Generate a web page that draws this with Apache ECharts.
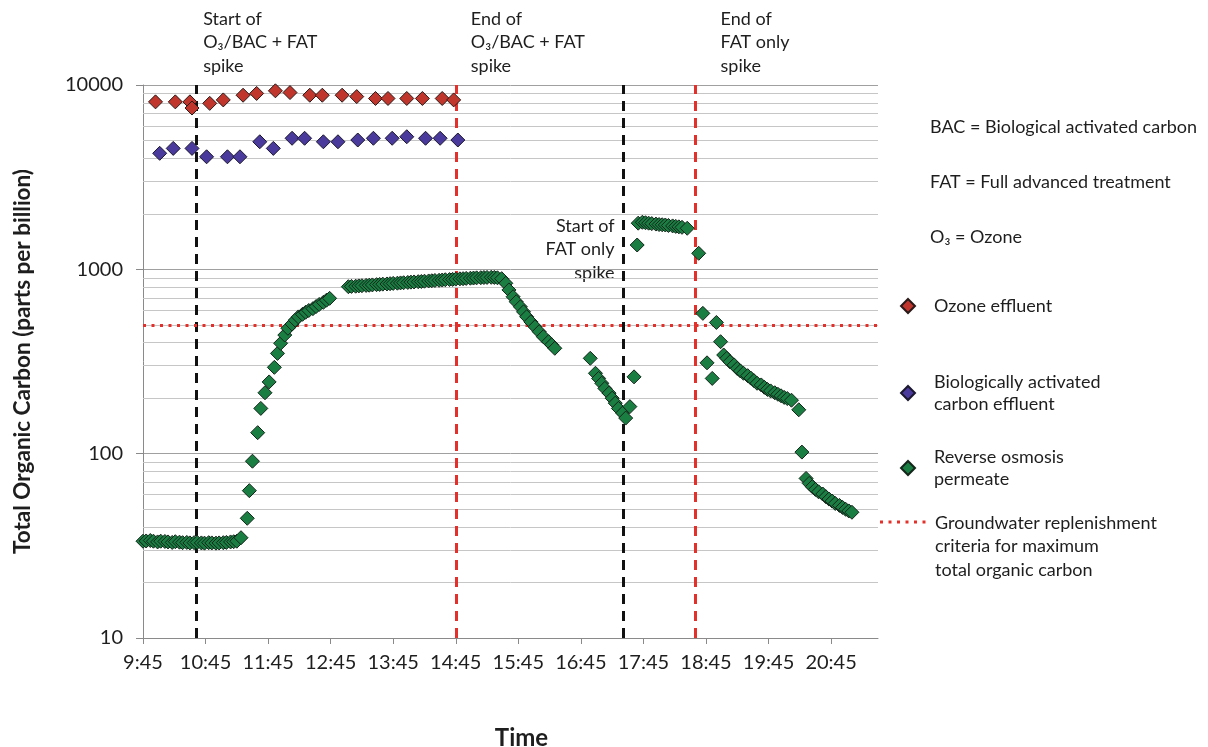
<!DOCTYPE html>
<html>
<head>
<meta charset="utf-8">
<script src="https://cdn.jsdelivr.net/npm/echarts@6/dist/echarts.min.js"></script>
<style>
html,body{margin:0;padding:0;background:#fff;}
#chart{width:1208px;height:747px;}
</style>
</head>
<body>
<div id="chart"></div>
<script>
// ---------- DATA ----------
const tickLabels = ['9:45','10:45','11:45','12:45','13:45','14:45','15:45','16:45','17:45','18:45','19:45','20:45'];
const axisStart = '9:45';
const axisEnd = '21:30';

const ozoneTimes = ['9:57','10:16','10:30','10:32','10:49','11:02','11:21','11:34','11:52','12:06','12:25','12:37','12:56','13:10','13:28','13:40','13:58','14:13','14:32','14:43'];
const ozoneValues = [8100,8100,8100,7500,7950,8300,8800,9000,9300,9100,8800,8800,8800,8650,8450,8450,8450,8450,8450,8300];

const bacTimes = ['10:01','10:14','10:32','10:46','11:06','11:18','11:37','11:50','12:08','12:20','12:38','12:52','13:11','13:26','13:44','13:58','14:16','14:30','14:47'];
const bacValues = [4260,4530,4530,4080,4080,4080,4920,4530,5140,5140,4920,4920,5030,5140,5140,5240,5140,5140,5030];

const roTimes = [
 '9:45','9:48','9:52','9:55','9:59','10:02','10:06','10:09','10:13','10:16','10:20','10:23','10:27','10:30','10:34','10:37','10:41','10:44','10:48','10:51','10:55','10:58','11:02','11:05','11:09','11:12','11:15','11:19',
 '11:25','11:27','11:30','11:35','11:38','11:42','11:46','11:51','11:54','11:57','12:01','12:04','12:08','12:11','12:14','12:18','12:21','12:24','12:28','12:31','12:34','12:38','12:41','12:44',
 '13:02','13:05','13:09','13:12','13:15','13:19','13:22','13:25','13:29','13:32','13:35','13:39','13:42','13:45','13:49','13:52','13:55','13:59','14:02','14:05','14:09','14:12','14:15','14:19','14:22','14:25','14:29','14:32','14:35','14:39','14:42','14:45','14:49','14:52','14:55','14:59','15:02','15:05','15:09','15:12','15:15','15:19','15:22','15:25','15:29',
 '15:33','15:36','15:40','15:43','15:47','15:50','15:53','15:57','16:01','16:05','16:09','16:14','16:17','16:20',
 '16:54','16:59','17:02','17:05','17:08','17:12','17:15','17:18','17:21','17:25','17:28','17:32','17:36',
 '17:39','17:40','17:44','17:47','17:50','17:53','17:57','18:00','18:03','18:06','18:09','18:13','18:16','18:19','18:22','18:27',
 '18:38','18:42','18:46','18:51','18:55','18:59',
 '19:02','19:05','19:08','19:12','19:15','19:18','19:21','19:25','19:28','19:31','19:34','19:38','19:41','19:44','19:47','19:51','19:54','19:57','20:00','20:03','20:07',
 '20:14','20:17','20:21','20:24','20:27','20:30','20:33','20:37','20:40','20:43','20:46','20:49','20:53','20:56','20:59','21:02','21:05'
];
const roValues = [
 33.5,33.6,33.8,33.5,33.2,33.5,33.4,33.2,33.0,33.3,33.1,32.9,33.0,32.8,32.9,33.0,32.8,32.7,32.9,32.8,32.7,32.8,32.9,33.0,33.2,33.3,33.5,35.0,
 44.6,63,91,130,176,214,245,294,350,397,440,479,505,530,552,570,585,598,612,628,645,662,680,696,
 805,808,810,813,815,818,820,823,826,828,831,833,836,839,841,844,846,849,852,854,857,859,862,865,867,870,872,875,878,880,882,885,888,890,893,895,897,899,901,903,904,905,904,900,890,
 840,773,710,667,626,588,553,519,488,459,431,405,390,373,
 329,273,256,241,226,213,200,188,176,166,156,180,261,
 1355,1780,1800,1790,1780,1770,1760,1750,1745,1740,1730,1720,1710,1700,1690,1670,
 1222,577,311,256,515,405,
 343,329,315,303,290,281,273,265,257,249,241,236,229,223,219,214,210,206,202,199,195,
 173,102,73.4,69,66.2,64,62.1,60.4,58.4,56.7,55.3,53.7,52.4,51.1,49.9,48.9,48.1
];

const criteriaValue = 500;
const eventTimes = ['10:36','14:45','17:26','18:35'];
const eventKinds = ['start','end','start','end'];
const minorGridValues = [20,30,40,50,60,70,80,90,200,300,400,500,600,700,800,900,2000,3000,4000,5000,6000,7000,8000,9000];

const seriesNames = ['Ozone effluent','Biologically activated carbon effluent','Reverse osmosis permeate'];
const legendTexts = ['Ozone effluent','Biologically activated\ncarbon effluent','Reverse osmosis\npermeate'];
const criteriaLegendText = 'Groundwater replenishment\ncriteria for maximum\ntotal organic carbon';
const definitions = ['BAC = Biological activated carbon','FAT = Full advanced treatment','O\u2083 = Ozone'];
const annotations = [
  {text:'Start of\nO\u2083/BAC + FAT\nspike'},
  {text:'End of\nO\u2083/BAC + FAT\nspike'},
  {text:'Start of\nFAT only\nspike'},
  {text:'End of\nFAT only\nspike'}
];

// ---------- HELPERS ----------
function toMin(s){const p=s.split(':').map(Number);const b=axisStart.split(':').map(Number);return p[0]*60+p[1]-(b[0]*60+b[1]);}
function fmt(v){const b=axisStart.split(':').map(Number);const t=b[0]*60+b[1]+v;const h=Math.floor(t/60);const m=t%60;return h+':'+(m<10?'0':'')+m;}
function pairs(ts,vs){return ts.map((t,i)=>[toMin(t),vs[i]]);}

const FONT = 'Lato';
const TXT = '#1e1e1e';
const RED = '#E3302B';
const tickVals = tickLabels.map(toMin);

const chart = echarts.init(document.getElementById('chart'), null, {renderer:'canvas'});

const colors = ['#C0362C','#4A3A9C','#1A7D42'];

const option = {
  animation:false,
  backgroundColor:'#fff',
  textStyle:{fontFamily:FONT},
  grid:{left:143,right:330,top:85,bottom:109,containLabel:false,outerBoundsMode:'none'},
  xAxis:{
    type:'value', min:0, max:toMin(axisEnd), interval:60,
    axisLine:{show:true,lineStyle:{color:'#8a8a8a',width:1}},
    axisTick:{show:true,customValues:tickVals,length:6,lineStyle:{color:'#8a8a8a'}},
    axisLabel:{customValues:tickVals,formatter:v=>fmt(v),fontSize:20,color:TXT,margin:15,fontFamily:FONT},
    splitLine:{show:false},
    name:'Time', nameLocation:'middle', nameGap:88,
    nameTextStyle:{fontSize:24,fontWeight:'bold',color:TXT,fontFamily:FONT,padding:[0,0,0,22]}
  },
  yAxis:{
    type:'log', logBase:10, min:10, max:10000,
    axisLine:{show:true,lineStyle:{color:'#8a8a8a'}},
    axisTick:{show:true,length:7,lineStyle:{color:'#8a8a8a'}},
    axisLabel:{fontSize:20,color:TXT,margin:20,fontFamily:FONT,formatter:v=>String(Math.round(v))},
    splitLine:{show:true,lineStyle:{color:'#a0a0a0',width:1}},
    name:'Total Organic Carbon (parts per billion)', nameLocation:'middle', nameGap:109, nameRotate:90,
    nameTextStyle:{fontSize:22.5,fontWeight:'bold',color:TXT,fontFamily:FONT}
  },
  legend:[
    {data:[seriesNames[0]],left:895,top:290},
    {data:[seriesNames[1]],left:895,top:366},
    {data:[seriesNames[2]],left:895,top:441}
  ].map(l=>Object.assign(l,{orient:'vertical',icon:'diamond',itemWidth:14,itemHeight:14,itemGap:0,
      selectedMode:false,formatter:n=>legendTexts[seriesNames.indexOf(n)],
      textStyle:{fontSize:18,color:TXT,fontFamily:FONT,lineHeight:22,padding:[0,0,0,14]}})),
  series:[
    {
      name:'gridlines', type:'line', data:[], silent:true, z:1,
      markLine:{silent:true,symbol:['none','none'],label:{show:false},animation:false,
        lineStyle:{color:'#c6c6c6',width:1,type:'solid'},
        data:minorGridValues.map(v=>({yAxis:v}))}
    },
    {
      name:'events', type:'line', data:[], silent:true, z:2,
      markLine:{silent:true,symbol:['none','none'],label:{show:false},animation:false,
        data:[
          ...eventTimes.map((t,i)=>({xAxis:toMin(t),lineStyle:{color:eventKinds[i]==='start'?'#111':RED,width:3,type:[10,7]}})),
          {yAxis:criteriaValue,lineStyle:{color:RED,width:3,type:[3,5.5]}}
        ]}
    },
    {name:seriesNames[0],type:'scatter',z:5,symbol:'diamond',symbolSize:14,
      itemStyle:{color:colors[0],borderColor:'#2a1a18',borderWidth:1,opacity:1},data:pairs(ozoneTimes,ozoneValues)},
    {name:seriesNames[1],type:'scatter',z:5,symbol:'diamond',symbolSize:14,
      itemStyle:{color:colors[1],borderColor:'#1c1830',borderWidth:1,opacity:1},data:pairs(bacTimes,bacValues)},
    {name:seriesNames[2],type:'scatter',z:5,symbol:'diamond',symbolSize:14,
      itemStyle:{color:colors[2],borderColor:'#14261a',borderWidth:1,opacity:1},data:pairs(roTimes,roValues)}
  ]
};
chart.setOption(option);

// ---------- annotations & definitions (positioned via the chart's own scale) ----------
function px(t){return chart.convertToPixel({gridIndex:0},[toMin(t),1000])[0];}
const gfx = [];
const annPos = [
  {dx:7, top:7, align:'left'},
  {dx:15, top:7, align:'left'},
  {dx:-9, top:214, align:'right'},
  {dx:25, top:7, align:'left'}
];
annotations.forEach((a,i)=>{
  const p=annPos[i];
  gfx.push({type:'text',x:px(eventTimes[i])+p.dx,y:p.top,
    style:{text:a.text,font:'18px '+FONT,fill:TXT,lineHeight:23.5,textAlign:p.align,textVerticalAlign:'top'}});
});
definitions.forEach((d,i)=>{
  gfx.push({type:'text',x:930,y:127+55*i,style:{text:d,font:'18px '+FONT,fill:TXT,textVerticalAlign:'middle'}});
});
gfx.push({type:'line',shape:{x1:880,y1:522,x2:930,y2:522},style:{stroke:RED,lineWidth:3,lineDash:[3,5.5]}});
gfx.push({type:'text',x:935,y:511,style:{text:criteriaLegendText,font:'18px '+FONT,fill:TXT,lineHeight:23.5,textVerticalAlign:'top'}});
chart.setOption({graphic:gfx});
</script>
</body>
</html>
